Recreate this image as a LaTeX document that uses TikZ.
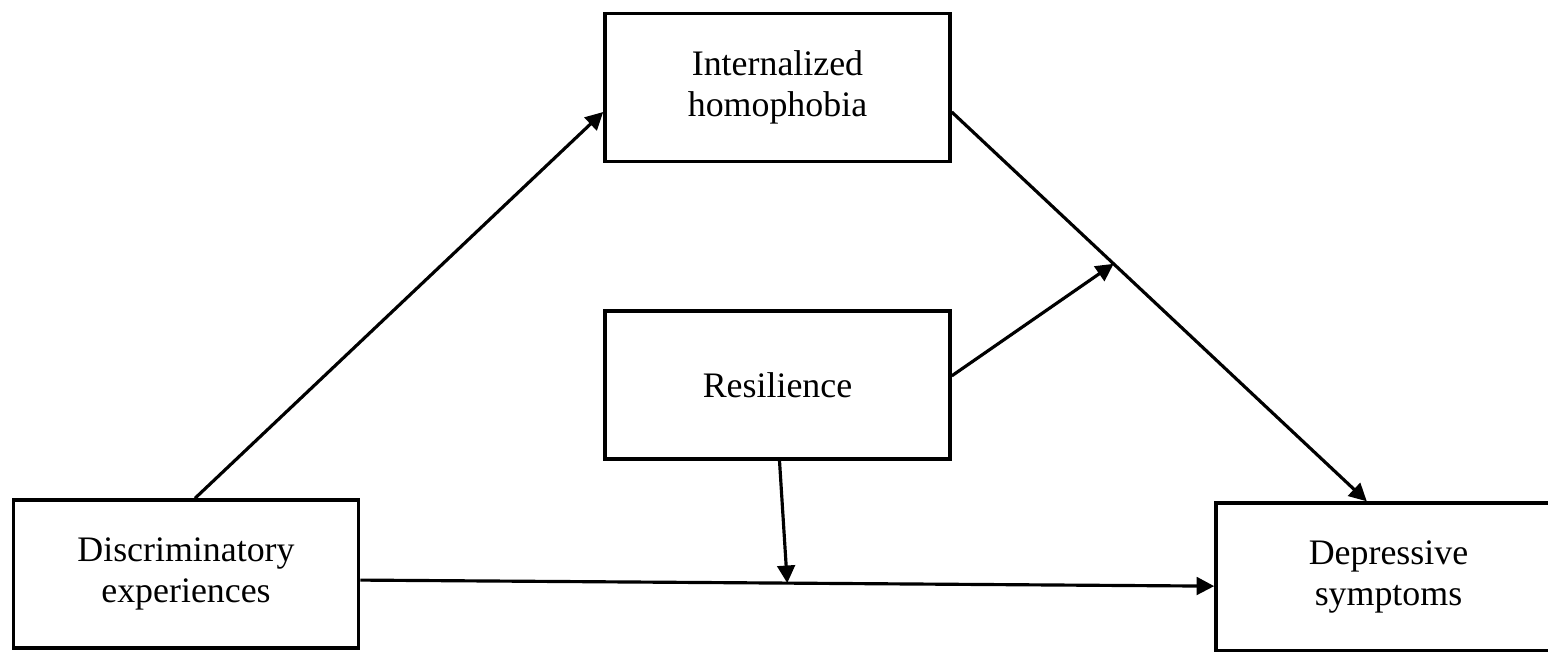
\documentclass[tikz,border=0pt]{standalone}
\usepackage{fontspec}
\setmainfont{Liberation Serif}
\usetikzlibrary{arrows.meta}

\begin{document}
\begin{tikzpicture}[x=0.01cm,y=-0.01cm,
  varbox/.style={draw,line width=0.95pt,minimum width=3.45cm,minimum height=1.48cm,
    inner sep=0pt,align=center,font=\fontsize{10.2}{11.8}\selectfont},
  path/.style={line width=0.9pt,-{Triangle[length=5pt,width=5pt]}}]
\useasboundingbox (0,0) rectangle (1548,651);
\clip (0,0) rectangle (1548,651);
\node[varbox] (disc) at (186,574) {Discriminatory\\experiences};
\node[varbox] (intern) at (777.5,87.5) {Internalized\\homophobia};
\node[varbox] (resil) at (777.5,385) {Resilience};
\node[varbox] (depress) at (1388.5,577) {Depressive\\symptoms};
\draw[path] ([xshift=0.09cm]disc.north) -- (intern.188);
\draw[path] (intern.352) -- coordinate[pos=0.39] (mod) (depress.106);
\draw[path] (disc.-2) -- coordinate[pos=0.5] (dir) (depress.183);
\draw[path] (resil.3) -- (mod);
\draw[path] ([xshift=0.02cm]resil.south) -- (dir);
\end{tikzpicture}
\end{document}
